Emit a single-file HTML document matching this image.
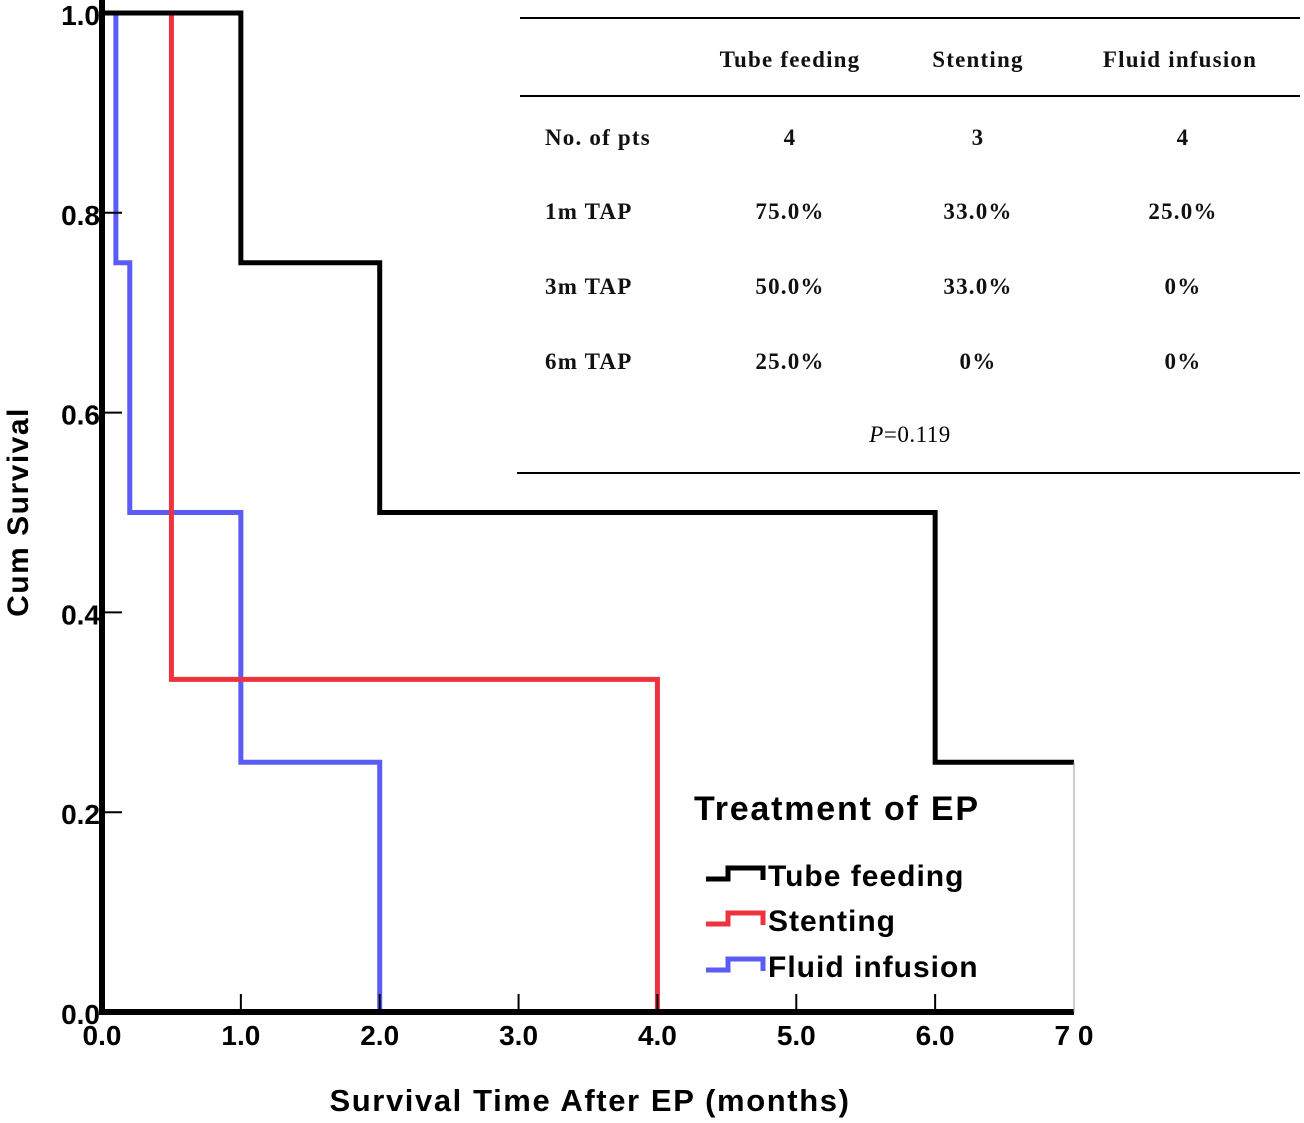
<!DOCTYPE html>
<html><head><meta charset="utf-8"><style>
html,body{margin:0;padding:0;background:#fff;width:1304px;height:1123px;overflow:hidden}
svg{display:block}
.tt{font-family:"Liberation Serif",serif;font-weight:bold;font-size:23px;fill:#111;letter-spacing:1.2px}
.ax{font-family:"Liberation Sans",sans-serif;font-weight:bold;fill:#000}
</style></head><body>
<svg id="chart" width="1304" height="1123" viewBox="0 0 1304 1123">
<g id="table">
<line x1="520" y1="18" x2="1300" y2="18" stroke="#000" stroke-width="2"/>
<line x1="520" y1="96" x2="1300" y2="96" stroke="#000" stroke-width="2"/>
<line x1="517" y1="473" x2="1300" y2="473" stroke="#000" stroke-width="2"/>
<text class="tt" x="790" y="67" text-anchor="middle">Tube feeding</text>
<text class="tt" x="978" y="67" text-anchor="middle">Stenting</text>
<text class="tt" x="1180" y="67" text-anchor="middle">Fluid infusion</text>
<text class="tt" x="545" y="145">No. of pts</text>
<text class="tt" x="790" y="145" text-anchor="middle">4</text>
<text class="tt" x="978" y="145" text-anchor="middle">3</text>
<text class="tt" x="1183" y="145" text-anchor="middle">4</text>
<text class="tt" x="545" y="219">1m TAP</text>
<text class="tt" x="790" y="219" text-anchor="middle">75.0%</text>
<text class="tt" x="978" y="219" text-anchor="middle">33.0%</text>
<text class="tt" x="1183" y="219" text-anchor="middle">25.0%</text>
<text class="tt" x="545" y="294">3m TAP</text>
<text class="tt" x="790" y="294" text-anchor="middle">50.0%</text>
<text class="tt" x="978" y="294" text-anchor="middle">33.0%</text>
<text class="tt" x="1183" y="294" text-anchor="middle">0%</text>
<text class="tt" x="545" y="369">6m TAP</text>
<text class="tt" x="790" y="369" text-anchor="middle">25.0%</text>
<text class="tt" x="978" y="369" text-anchor="middle">0%</text>
<text class="tt" x="1183" y="369" text-anchor="middle">0%</text>
<text x="910" y="442" text-anchor="middle" style="font-family:'Liberation Serif',serif;font-size:23px;letter-spacing:0.5px"><tspan font-style="italic">P</tspan>=0.119</text>
</g>
<g id="plot"></g>
<text class="ax" font-size="30" letter-spacing="1.5" transform="translate(28,512) rotate(-90)" text-anchor="middle">Cum Survival</text>
<text class="ax" font-size="31" letter-spacing="1.6" x="590" y="1111" text-anchor="middle">Survival Time After EP (months)</text>
<g>
<line x1="1074" y1="762" x2="1074" y2="1012" stroke="#999" stroke-width="1"/>
<text class="ax" font-size="34" letter-spacing="1.8" x="694" y="820">Treatment of EP</text>
<g id="legend-entries"></g>
</g>
</svg>
<script>
const xMin = 0, xMax = 7, yMin = 0, yMax = 1;
const xTicks = [0, 1, 2, 3, 4, 5, 6, 7];
const xTickLabels = ["0.0", "1.0", "2.0", "3.0", "4.0", "5.0", "6.0", "7 0"];
const yTicks = [0, 0.2, 0.4, 0.6, 0.8, 1.0];
const yTickLabels = ["0.0", "0.2", "0.4", "0.6", "0.8", "1.0"];
const seriesNames = ["Tube feeding", "Stenting", "Fluid infusion"];
const tubeTimes = [0, 1, 2, 6, 7];
const tubeSurv = [1, 0.75, 0.5, 0.25, 0.25];
const stentTimes = [0, 0.5, 4];
const stentSurv = [1, 0.333, 0];
const fluidTimes = [0, 0.1, 0.2, 1, 2];
const fluidSurv = [1, 0.75, 0.5, 0.25, 0];

const X0 = 102, X1 = 1074, Y0 = 1012, Y1 = 13;
const sx = v => X0 + (v - xMin) / (xMax - xMin) * (X1 - X0);
const sy = v => Y0 - (v - yMin) / (yMax - yMin) * (Y0 - Y1);
const NS = "http://www.w3.org/2000/svg";
const plot = document.getElementById("plot");
function mk(tag, attrs, parent) { const e = document.createElementNS(NS, tag); for (const k in attrs) e.setAttribute(k, attrs[k]); (parent || plot).appendChild(e); return e; }

const colors = ["#000000", "#ee3340", "#5b5bf5"];
const sets = [[tubeTimes, tubeSurv], [stentTimes, stentSurv], [fluidTimes, fluidSurv]];
const names = ["curve-tube-feeding", "curve-stenting", "curve-fluid-infusion"];
[2, 1, 0].forEach(i => {
  const [t, s] = sets[i];
  let d = "M" + sx(t[0]) + "," + sy(s[0]);
  for (let k = 1; k < t.length; k++) { d += " H" + sx(t[k]) + " V" + sy(s[k]); }
  const p = mk("path", { d: d, fill: "none", stroke: colors[i], "stroke-width": 5 });
  
  
});

const ya = mk("line", { x1: X0, y1: 0, x2: X0, y2: Y0 + 2, stroke: "#000", "stroke-width": 6 });


const xa = mk("line", { x1: X0 - 3, y1: Y0, x2: X1, y2: Y0, stroke: "#000", "stroke-width": 6 });



xTicks.forEach((v, i) => {
  if (i > 0 && i < xTicks.length - 1) {
    const tk = mk("line", { x1: sx(v), y1: Y0, x2: sx(v), y2: Y0 - 18, stroke: "#000", "stroke-width": 2 });
    
    
  }
  const tl = mk("text", { x: sx(v), y: Y0 + 33, "text-anchor": "middle", class: "ax", "font-size": 28 });
  tl.textContent = xTickLabels[i];
  
  
});
yTicks.forEach((v, i) => {
  if (i > 0 && i < yTicks.length - 1) {
    const tk = mk("line", { x1: X0, y1: sy(v), x2: X0 + 20, y2: sy(v), stroke: "#000", "stroke-width": 2 });
    
    
  }
  const tl = mk("text", { x: X0 - 2, y: sy(v) + 12, "text-anchor": "end", class: "ax", "font-size": 28 });
  tl.textContent = yTickLabels[i];
  
  
});

const leg = document.getElementById("legend-entries");
const legY = [874, 919, 965];
seriesNames.forEach((n, i) => {
  const y = legY[i];
  const p = mk("path", { d: `M706,${y + 5} H728 V${y - 6} H763 V${y + 6}`, fill: "none", stroke: colors[i], "stroke-width": 5 }, leg);
  
  
  const t = mk("text", { x: 768, y: y + 12, class: "ax", "font-size": 30, "letter-spacing": "1" }, leg);
  t.textContent = n;
  
  
});
</script>
</body></html>
